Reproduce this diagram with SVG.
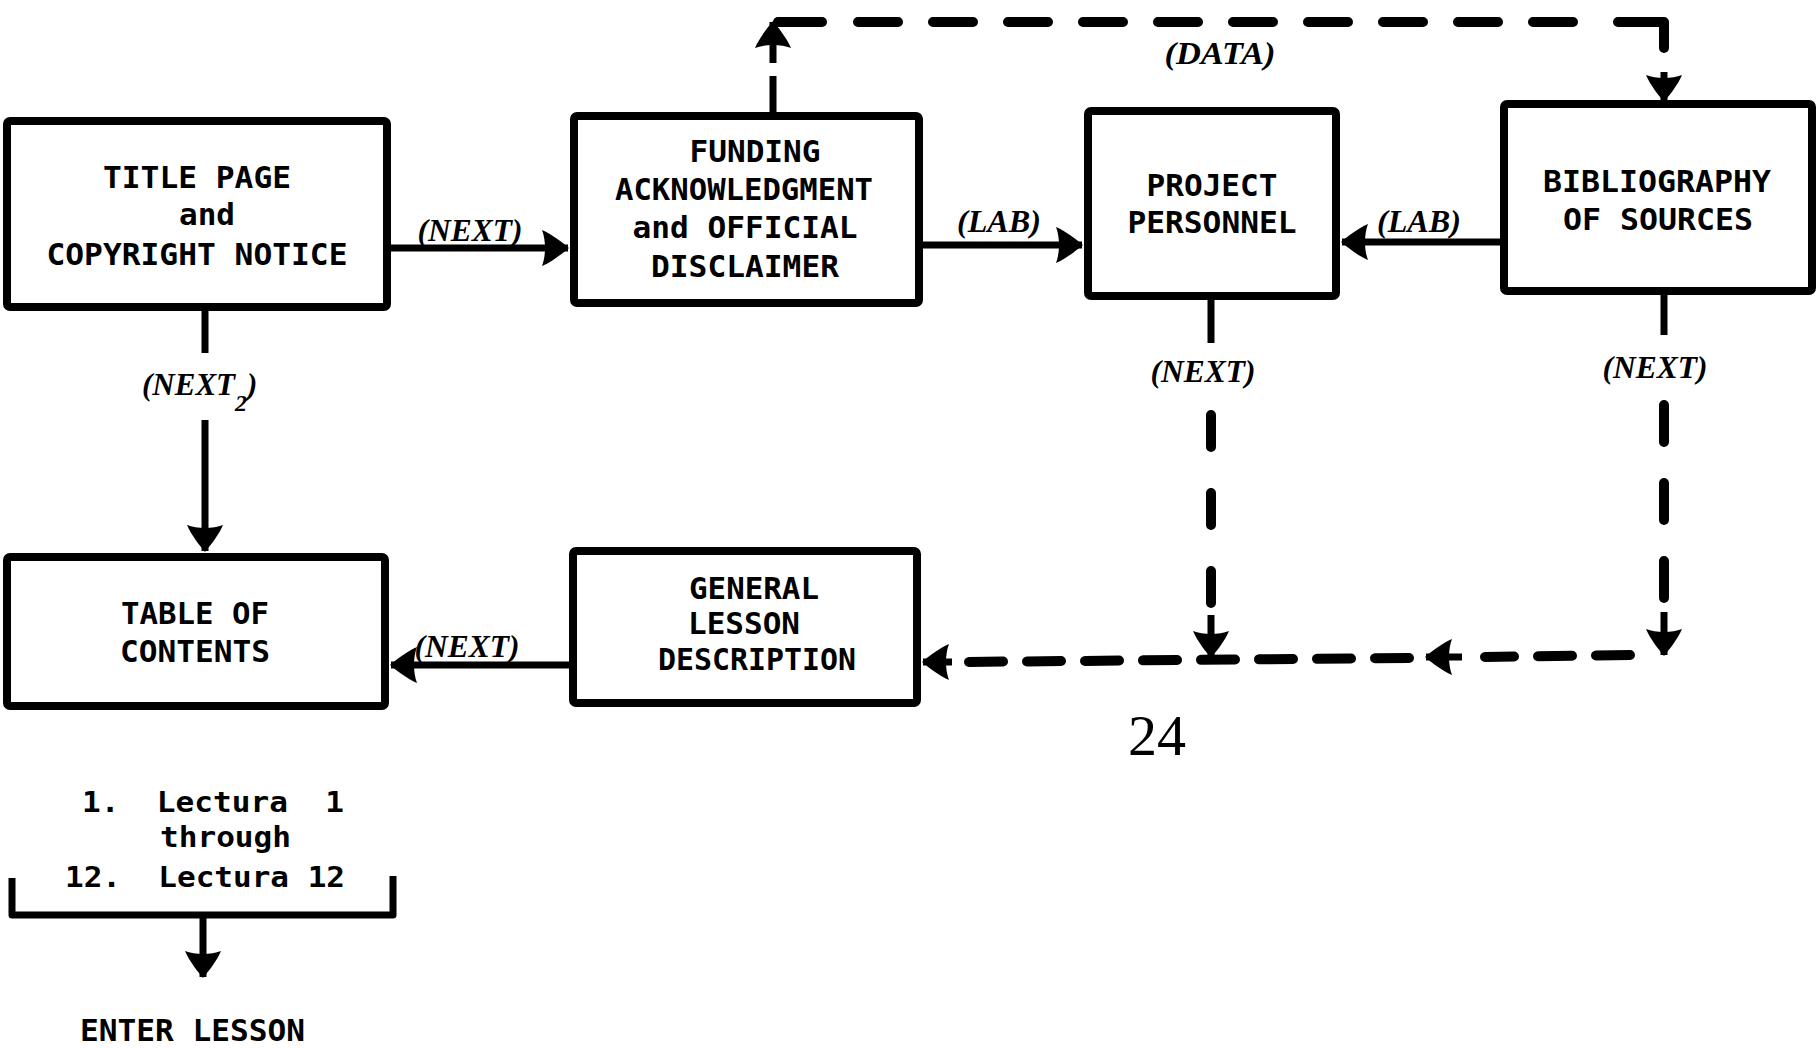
<svg xmlns="http://www.w3.org/2000/svg" width="1818" height="1048" viewBox="0 0 1818 1048">
<style>
.box{fill:#fff;stroke:#000;stroke-width:8;stroke-linejoin:round}
.ln{fill:none;stroke:#000;stroke-width:7}
.dsh{fill:none;stroke:#000;stroke-width:10;stroke-linecap:round}
.lbl{font-family:"DejaVu Sans Mono","Liberation Mono",monospace;font-weight:bold;font-size:31px;text-anchor:middle;fill:#000}
.sm{font-size:29.5px}
.mono{font-family:"DejaVu Sans Mono","Liberation Mono",monospace;font-weight:bold;font-size:29px;fill:#000}
.edge{font-family:"Liberation Serif",serif;font-style:italic;font-weight:bold;font-size:31px;text-anchor:middle;fill:#000}
.pg{font-family:"Liberation Serif",serif;font-size:58px;text-anchor:middle;fill:#000}
</style>
<defs>
<marker id="ah" viewBox="-28 -20 30 40" refX="0" refY="0" markerWidth="30" markerHeight="40" orient="auto" markerUnits="userSpaceOnUse">
<path d="M1,0 C-4,-4 -16,-14 -26,-18 C-22,-8 -22,8 -26,18 C-16,14 -4,4 1,0 Z" fill="#000"/>
</marker>
</defs>
<rect x="0" y="0" width="1818" height="1048" fill="#fff"/>

<g id="connectors">
<!-- Title -> Funding -->
<path class="ln" d="M391,248 H568" marker-end="url(#ah)"/>
<!-- Funding -> Project -->
<path class="ln" d="M923,245 H1082" marker-end="url(#ah)"/>
<!-- Bibliography -> Project -->
<path class="ln" d="M1500,242 H1342" marker-end="url(#ah)"/>
<!-- Title -> Table of contents -->
<path class="ln" d="M205,311 V353"/>
<path class="ln" d="M205,420 V551" marker-end="url(#ah)"/>
<!-- General -> Table of contents -->
<path class="ln" d="M569,665 H391" marker-end="url(#ah)"/>
<!-- DATA loop: Funding top -> Bibliography top -->
<path class="ln" d="M773,112 V76"/>
<path class="ln" d="M773,63 V22" marker-end="url(#ah)"/>
<path class="dsh" d="M778,22 H822"/>
<path class="dsh" d="M858,22 H1600" stroke-dasharray="40 35"/>
<path class="dsh" d="M1618,22 H1664 V48" stroke-linejoin="round"/>
<path class="ln" d="M1664,72 V101" marker-end="url(#ah)"/>
<!-- Project -> down -->
<path class="ln" d="M1211,300 V343"/>
<path class="dsh" d="M1211,415 V605" stroke-dasharray="32 46"/>
<path class="ln" d="M1211,615 V657" marker-end="url(#ah)"/>
<!-- Bibliography -> down -->
<path class="ln" d="M1664,295 V335"/>
<path class="dsh" d="M1664,405 V600" stroke-dasharray="37 41"/>
<path class="ln" d="M1664,612 V655" marker-end="url(#ah)"/>
<!-- bottom dashed return to General -->
<path class="dsh" d="M1630,655 L1485,657" stroke-dasharray="34 24"/>
<path class="ln" d="M1462,657 L1426,657" marker-end="url(#ah)"/>
<path class="dsh" d="M1409,658 L960,662" stroke-dasharray="34 24"/>
<path class="ln" d="M952,662 L923,662" marker-end="url(#ah)"/>
<!-- lessons bracket -->
<path class="ln" d="M12,878 V915 H393 V876" stroke-width="8" stroke-linejoin="round"/>
<path class="ln" d="M203,915 V977" marker-end="url(#ah)"/>
</g>

<g id="edge-labels">
<text class="edge" x="470" y="241" textLength="105" lengthAdjust="spacingAndGlyphs">(NEXT)</text>
<text class="edge" x="999" y="232" textLength="84" lengthAdjust="spacingAndGlyphs">(LAB)</text>
<text class="edge" x="1419" y="232" textLength="84" lengthAdjust="spacingAndGlyphs">(LAB)</text>
<text class="edge" x="1220" y="64" textLength="111" lengthAdjust="spacingAndGlyphs">(DATA)</text>
<text class="edge" x="1203" y="382" textLength="105" lengthAdjust="spacingAndGlyphs">(NEXT)</text>
<text class="edge" x="1655" y="378" textLength="105" lengthAdjust="spacingAndGlyphs">(NEXT)</text>
<text class="edge" x="467" y="657" textLength="105" lengthAdjust="spacingAndGlyphs">(NEXT)</text>
<text class="edge" x="142" y="395" style="text-anchor:start">(NEXT<tspan font-size="24" dy="16">2</tspan><tspan dy="-16">)</tspan></text>
</g>

<g id="title-page">
<rect class="box" x="7" y="121" width="380" height="186" rx="3"/>
<text class="lbl" x="197" y="188" textLength="188" lengthAdjust="spacingAndGlyphs">TITLE PAGE</text>
<text class="lbl" x="207" y="225" textLength="56" lengthAdjust="spacingAndGlyphs">and</text>
<text class="lbl" x="197" y="265" textLength="301" lengthAdjust="spacingAndGlyphs">COPYRIGHT NOTICE</text>
</g>

<g id="funding">
<rect class="box" x="574" y="116" width="345" height="187" rx="3"/>
<text class="lbl" x="755" y="162" textLength="131" lengthAdjust="spacingAndGlyphs">FUNDING</text>
<text class="lbl" x="744" y="200" textLength="258" lengthAdjust="spacingAndGlyphs">ACKNOWLEDGMENT</text>
<text class="lbl" x="745" y="238" textLength="225" lengthAdjust="spacingAndGlyphs">and OFFICIAL</text>
<text class="lbl" x="745" y="277" textLength="188" lengthAdjust="spacingAndGlyphs">DISCLAIMER</text>
</g>

<g id="project-personnel">
<rect class="box" x="1088" y="111" width="248" height="185" rx="3"/>
<text class="lbl sm" x="1212" y="196" textLength="131" lengthAdjust="spacingAndGlyphs">PROJECT</text>
<text class="lbl sm" x="1212" y="233" textLength="169" lengthAdjust="spacingAndGlyphs">PERSONNEL</text>
</g>

<g id="bibliography">
<rect class="box" x="1504" y="104" width="308" height="187" rx="3"/>
<text class="lbl sm" x="1657" y="192" textLength="228" lengthAdjust="spacingAndGlyphs">BIBLIOGRAPHY</text>
<text class="lbl sm" x="1658" y="230" textLength="190" lengthAdjust="spacingAndGlyphs">OF SOURCES</text>
</g>

<g id="table-of-contents">
<rect class="box" x="7" y="557" width="378" height="149" rx="3"/>
<text class="lbl" x="195" y="624" textLength="148" lengthAdjust="spacingAndGlyphs">TABLE OF</text>
<text class="lbl" x="195" y="662" textLength="150" lengthAdjust="spacingAndGlyphs">CONTENTS</text>
</g>

<g id="general-lesson">
<rect class="box" x="573" y="551" width="344" height="152" rx="3"/>
<text class="lbl sm" x="754" y="599" textLength="130" lengthAdjust="spacingAndGlyphs">GENERAL</text>
<text class="lbl sm" x="744" y="634" textLength="112" lengthAdjust="spacingAndGlyphs">LESSON</text>
<text class="lbl sm" x="757" y="670" textLength="198" lengthAdjust="spacingAndGlyphs">DESCRIPTION</text>
</g>

<g id="lessons">
<text class="mono" x="82" y="812" xml:space="preserve" textLength="262" lengthAdjust="spacingAndGlyphs">1.  Lectura  1</text>
<text class="mono" x="160" y="847" textLength="131" lengthAdjust="spacingAndGlyphs">through</text>
<text class="mono" x="65" y="887" xml:space="preserve" textLength="280" lengthAdjust="spacingAndGlyphs">12.  Lectura 12</text>
</g>

<g id="enter-lesson">
<text class="mono" x="80" y="1041" textLength="225" lengthAdjust="spacingAndGlyphs" style="font-size:31px">ENTER LESSON</text>
</g>

<text class="pg" x="1157" y="755">24</text>
</svg>
